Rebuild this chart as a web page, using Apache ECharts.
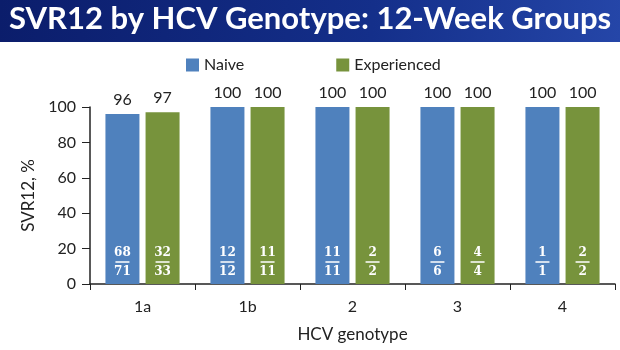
<!DOCTYPE html>
<html><head><meta charset="utf-8">
<script src="https://cdn.jsdelivr.net/npm/echarts@6/dist/echarts.min.js"></script>
<style>html,body{margin:0;padding:0;background:#fff}#c{width:620px;height:350px}</style>
</head><body><div id="c"></div>
<script>
const categories = ['1a', '1b', '2', '3', '4'];
const naive = [96, 100, 100, 100, 100];
const experienced = [97, 100, 100, 100, 100];
const naiveN = [[68, 71], [12, 12], [11, 11], [6, 6], [1, 1]];
const experiencedN = [[32, 33], [11, 11], [2, 2], [4, 4], [2, 2]];
const yTicks = [0, 20, 40, 60, 80, 100];

const chart = echarts.init(document.getElementById('c'));
const fracRich = {
  t: {color: '#fff', fontFamily: 'DejaVu Serif', fontWeight: 'bold', fontSize: 12, lineHeight: 13, align: 'center'},
  l: {width: 14, height: 1.5, backgroundColor: '#fff', align: 'center', lineHeight: 6},
  b: {color: '#fff', fontFamily: 'DejaVu Serif', fontWeight: 'bold', fontSize: 12, lineHeight: 13, align: 'center'}
};
function fracSeries(name, vals, counts, color) {
  return {
    name, type: 'bar', data: vals, barWidth: 34, barGap: '18%', xAxisIndex: 0,
    itemStyle: {color},
    label: {
      show: true, position: 'insideBottom', distance: 6,
      formatter: p => '{t|' + counts[p.dataIndex][0] + '}\n{l|}\n{b|' + counts[p.dataIndex][1] + '}',
      rich: fracRich
    }
  };
}
function topSeries(name, vals) {
  return {
    name, type: 'bar', data: vals, barWidth: 34, barGap: '18%', xAxisIndex: 1,
    itemStyle: {color: 'rgba(0,0,0,0)'}, silent: true, z: 1,
    label: {show: true, position: 'top', distance: 6, color: '#222', fontSize: 16, fontFamily: 'Lato'}
  };
}
const axisCommon = {
  type: 'category', data: categories,
  axisLine: {lineStyle: {color: '#222', width: 1.5}},
  axisTick: {show: true, length: 6, lineStyle: {color: '#222'}},
  axisLabel: {fontSize: 16, color: '#222', margin: 15, fontFamily: 'Lato'},
  name: 'HCV genotype', nameLocation: 'middle', nameGap: 42,
  nameTextStyle: {fontSize: 17, color: '#222', fontFamily: 'Lato'}
};
chart.setOption({
  animation: false,
  graphic: [{
    type: 'rect', shape: {x: 0, y: 0, width: 620, height: 42}, z: -1,
    style: {fill: new echarts.graphic.LinearGradient(0, 0, 1, 1, [
      {offset: 0, color: '#0b1d6b'}, {offset: 0.6, color: '#142f8a'}, {offset: 1, color: '#2546a8'}])}
  }, {
    type: 'text', left: 9, top: 3,
    style: {text: 'SVR12 by HCV Genotype: 12-Week Groups', fill: '#fff', font: 'bold 31px Lato'}
  }],
  legend: {
    left: 181, top: 52, itemWidth: 13, itemHeight: 13, itemGap: 92,
    icon: 'rect', data: ['Naive', 'Experienced'],
    textStyle: {fontSize: 16, color: '#222', fontFamily: 'Lato'}
  },
  grid: {left: 90, right: 5, top: 107, bottom: 66},
  xAxis: [
    axisCommon,
    {type: 'category', data: categories, show: false, position: 'bottom'}
  ],
  yAxis: {
    type: 'value', min: 0, max: 100, interval: 20,
    axisLine: {show: true, lineStyle: {color: '#222', width: 1.5}},
    axisTick: {show: true, length: 8, lineStyle: {color: '#222'}},
    splitLine: {show: false},
    axisLabel: {fontSize: 16, color: '#222', margin: 14, fontFamily: 'Lato', customValues: yTicks},
    name: 'SVR12, %', nameLocation: 'middle', nameGap: 42, nameRotate: 90,
    nameTextStyle: {fontSize: 17, color: '#222', fontFamily: 'Lato'}
  },
  series: [
    fracSeries('Naive', naive, naiveN, '#4F81BD'),
    fracSeries('Experienced', experienced, experiencedN, '#77933C'),
    topSeries('NaiveTop', naive),
    topSeries('ExperiencedTop', experienced)
  ]
});
</script></body></html>
